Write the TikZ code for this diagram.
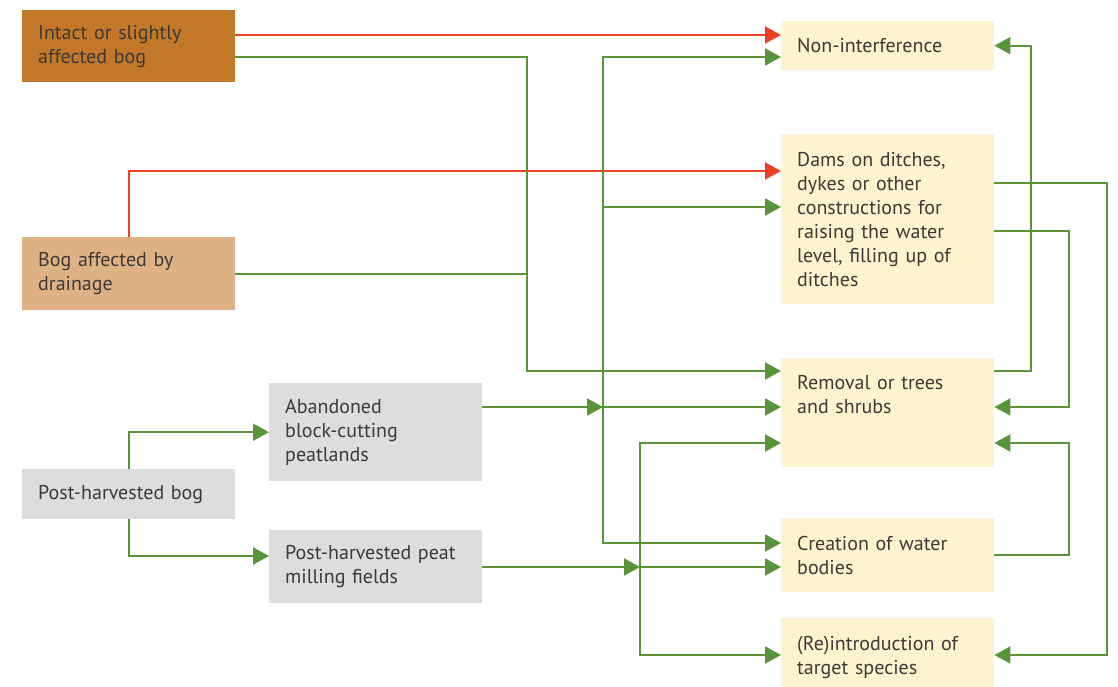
\documentclass[tikz,border=0pt]{standalone}
\usepackage{fontspec}
\setmainfont{PT Sans}
\usetikzlibrary{arrows.meta,calc}
\definecolor{cbrown}{RGB}{194,119,41}
\definecolor{ctan}{RGB}{223,178,134}
\definecolor{cgrey}{RGB}{220,221,223}
\definecolor{cyel}{RGB}{253,243,206}
\definecolor{cred}{RGB}{238,65,36}
\definecolor{cgreen}{RGB}{88,148,56}
\definecolor{ctxt}{RGB}{62,57,53}
\tikzset{
  box/.style={rectangle, anchor=north west, inner xsep=16pt, inner ysep=0pt,
    minimum width=213pt, text width=181pt, align=left, text=ctxt,
    font=\fontsize{20}{24}\selectfont},
  redc/.style={draw=cred, line width=2pt, -{Triangle[length=16pt,width=17pt]}},
  grnA/.style={draw=cgreen, line width=2pt, -{Triangle[length=16pt,width=17pt]}},
  grn/.style={draw=cgreen, line width=2pt},
}
\begin{document}
\begin{tikzpicture}[x=1pt,y=-1pt]
\useasboundingbox (0,0) rectangle (1118,687);
% left boxes
\node[box, fill=cbrown, minimum height=72pt] (intact) at (22,10) {Intact or slightly\\affected bog};
\node[box, fill=ctan, minimum height=73pt] (drain) at (22,237) {Bog affected by\\drainage};
\node[box, fill=cgrey, minimum height=50pt] (post) at (22,469) {Post-harvested bog};
\node[box, fill=cgrey, minimum height=98pt] (aband) at (269,383) {Abandoned\\block-cutting\\peatlands};
\node[box, fill=cgrey, minimum height=73pt] (mill) at (269,530) {Post-harvested peat\\milling fields};
% right boxes
\node[box, fill=cyel, minimum height=49pt] (nonint) at (781,21) {Non-interference};
\node[box, fill=cyel, minimum height=170pt] (dams) at (781,134) {Dams on ditches,\\dykes or other\\constructions for\\raising the water\\level, filling up of\\ditches};
\node[box, fill=cyel, minimum height=109pt] (remov) at (781,358) {};
\node[box, minimum height=0pt, inner ysep=0pt] (remt) at ($(remov.north west)+(0,17)$) {Removal or trees\\and shrubs};
\node[box, fill=cyel, minimum height=74pt] (creat) at (781,518) {Creation of water\\bodies};
\node[box, fill=cyel, minimum height=78pt] (reint) at (781,618) {(Re)introduction of\\target species};
% helper coordinates
\coordinate (xa) at (527,0);
\coordinate (xb) at (603,0);
\coordinate (xc) at (640,0);
\coordinate (xd) at (1031,0);
\coordinate (xe) at (1069,0);
\coordinate (xf) at (1107,0);
\coordinate (inR) at ($(intact.north east)+(0,25)$);
\coordinate (inG) at ($(intact.north east)+(0,47)$);
\coordinate (nonR) at ($(nonint.north west)+(0,14)$);
\coordinate (nonB) at ($(nonint.north west)+(0,36)$);
\coordinate (damR) at ($(dams.north west)+(0,37)$);
\coordinate (damB) at ($(dams.north west)+(0,73)$);
\coordinate (damE1) at ($(dams.north east)+(0,49)$);
\coordinate (damE2) at ($(dams.north east)+(0,97)$);
\coordinate (remA) at ($(remov.north west)+(0,13)$);
\coordinate (remB) at ($(remov.north west)+(0,49)$);
\coordinate (remC) at ($(remov.north west)+(0,85)$);
\coordinate (remE1) at ($(remov.north east)+(0,13)$);
\coordinate (remE2) at ($(remov.north east)+(0,49)$);
\coordinate (remE3) at ($(remov.north east)+(0,85)$);
\coordinate (abE) at ($(aband.north east)+(0,24)$);
\coordinate (millW) at ($(mill.north west)+(0,26)$);
\coordinate (millE) at ($(mill.north east)+(0,37)$);
\coordinate (creA) at ($(creat.north west)+(0,25)$);
\coordinate (creB) at ($(creat.north west)+(0,49)$);
\coordinate (reiA) at ($(reint.north west)+(0,37)$);
\coordinate (reiE) at ($(reint.north east)+(0,37)$);
% red connectors
\draw[redc] (inR) -- (nonR);
\draw[redc] (drain.north) |- (damR);
% green from intact and drainage
\draw[grnA] (inG) -| (xa |- remA) -- (remA);
\draw[grn] (drain.east) -- (xa |- drain.east);
% post-harvested bog
\draw[grnA] (post.north) |- (aband.west);
\draw[grnA] (post.south) |- (millW);
% abandoned
\draw[grnA] (abE) -- (xb |- abE);
\draw[grnA] (xb |- abE) -- (remB);
\draw[grnA] (xb |- abE) |- (nonB);
\draw[grnA] (xb |- damB) -- (damB);
\draw[grnA] (xb |- abE) |- (creA);
% milling
\draw[grnA] (millE) -- (xc |- millE);
\draw[grnA] (xc |- millE) -- (creB);
\draw[grnA] (xc |- millE) |- (remC);
\draw[grnA] (xc |- millE) |- (reiA);
% right side
\draw[grnA] (remE1) -| (xd |- nonint.east) -- (nonint.east);
\draw[grnA] (damE1) -| (xf |- reiE) -- (reiE);
\draw[grnA] (damE2) -| (xe |- remE2) -- (remE2);
\draw[grnA] (creat.east) -| (xe |- remE3) -- (remE3);
\end{tikzpicture}
\end{document}
